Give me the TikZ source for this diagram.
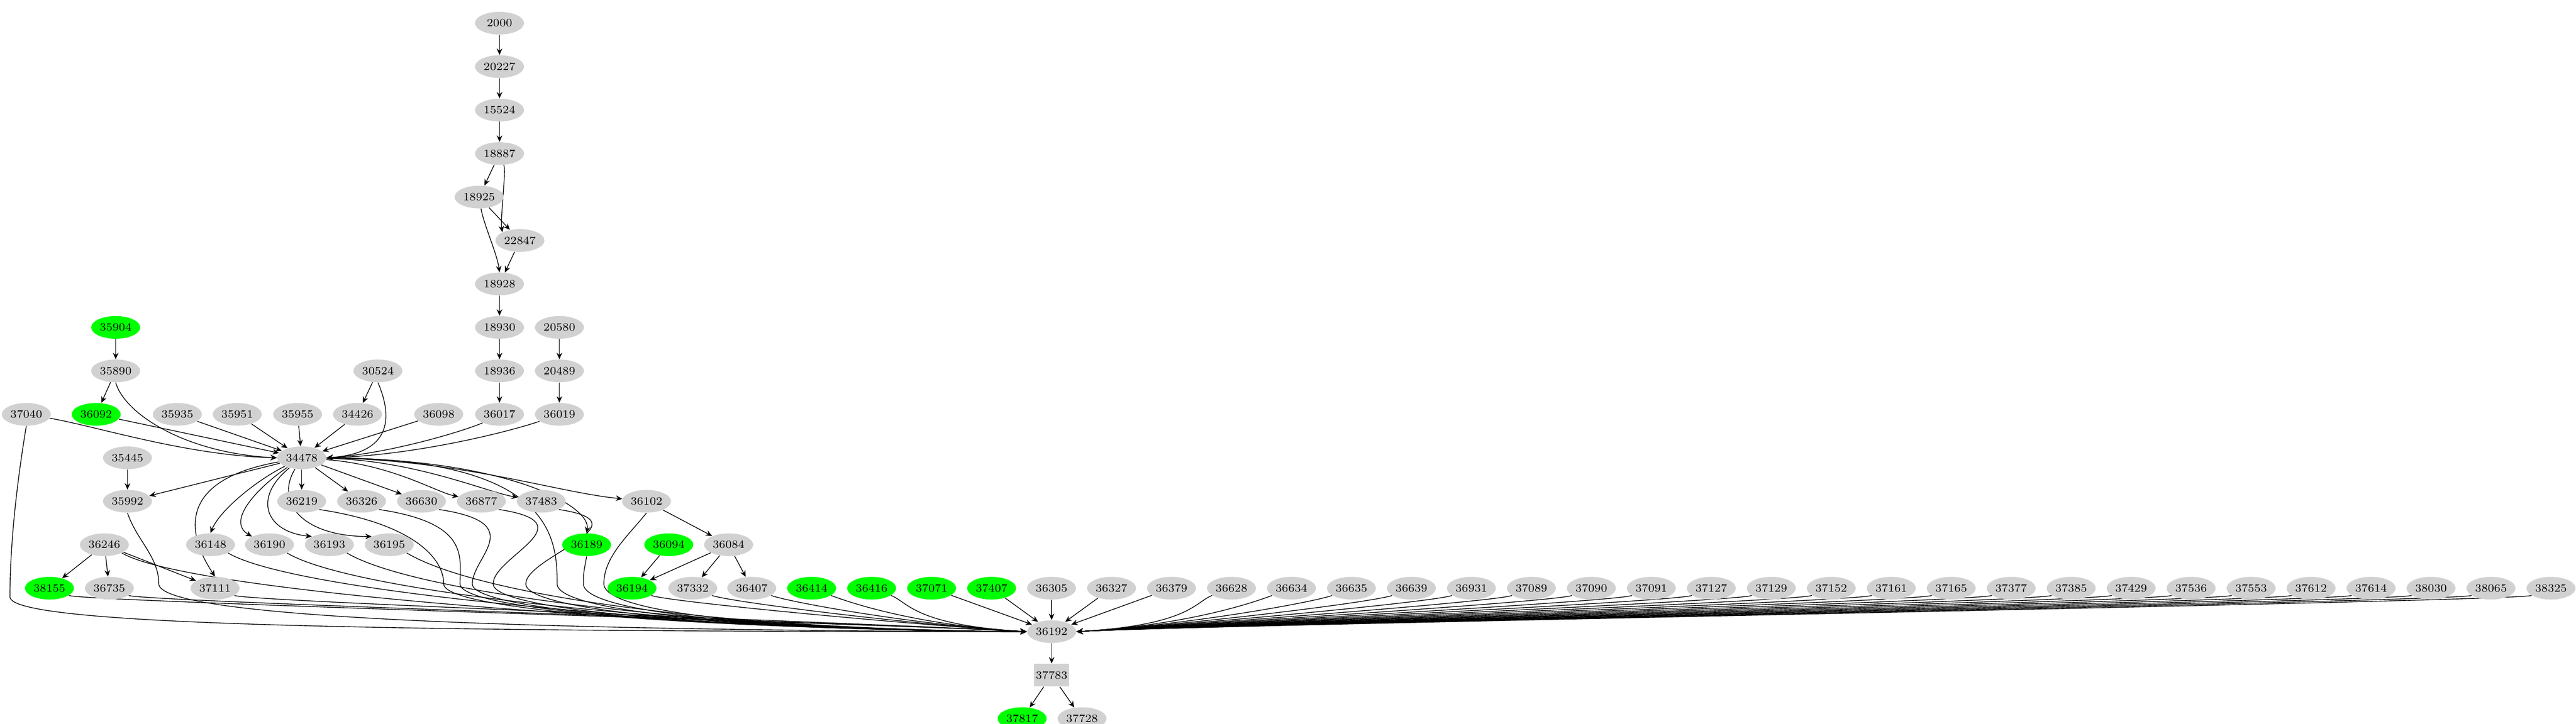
\documentclass[tikz,border=0pt]{standalone}
\usetikzlibrary{arrows.meta,shapes.geometric}
\pgfdeclarelayer{bg}
\pgfsetlayers{bg,main}
\begin{document}
\begin{tikzpicture}[x=0.01cm,y=-1cm,
  nd/.style={ellipse,fill=black!18,minimum width=1.08cm,minimum height=0.5cm,inner sep=0pt,font=\fontsize{7}{8}\selectfont},
  gn/.style={nd,fill=green},
  bx/.style={rectangle,fill=black!18,minimum width=0.5cm,minimum height=0.5cm,inner sep=1pt,font=\fontsize{7}{8}\selectfont},
  e/.style={-{Stealth[length=4pt,width=3.5pt]},line width=0.45pt}]
\useasboundingbox (0,0) rectangle (5678,15.95);
\newcommand{\R}[1]{0.51+0.958*#1}
\node[nd] (n2000) at (1101,{\R{0}}) {2000};
\node[nd] (n20227) at (1101,{\R{1}}) {20227};
\node[nd] (n15524) at (1101,{\R{2}}) {15524};
\node[nd] (n18887) at (1101,{\R{3}}) {18887};
\node[nd] (n18925) at (1056,{\R{4}}) {18925};
\node[nd] (n22847) at (1146,{\R{5}}) {22847};
\node[nd] (n18928) at (1101,{\R{6}}) {18928};
\node[gn] (n35904) at (255,{\R{7}}) {35904};
\node[nd] (n18930) at (1101,{\R{7}}) {18930};
\node[nd] (n20580) at (1233,{\R{7}}) {20580};
\node[nd] (n35890) at (255,{\R{8}}) {35890};
\node[nd] (n30524) at (833,{\R{8}}) {30524};
\node[nd] (n18936) at (1101,{\R{8}}) {18936};
\node[nd] (n20489) at (1233,{\R{8}}) {20489};
\node[nd] (n37040) at (58,{\R{9}}) {37040};
\node[gn] (n36092) at (212,{\R{9}}) {36092};
\node[nd] (n35935) at (391,{\R{9}}) {35935};
\node[nd] (n35951) at (523,{\R{9}}) {35951};
\node[nd] (n35955) at (656,{\R{9}}) {35955};
\node[nd] (n34426) at (788,{\R{9}}) {34426};
\node[nd] (n36098) at (967,{\R{9}}) {36098};
\node[nd] (n36017) at (1101,{\R{9}}) {36017};
\node[nd] (n36019) at (1233,{\R{9}}) {36019};
\node[nd] (n35445) at (281,{\R{10}}) {35445};
\node[nd] (n34478) at (665,{\R{10}}) {34478};
\node[nd] (n35992) at (281,{\R{11}}) {35992};
\node[nd] (n36219) at (665,{\R{11}}) {36219};
\node[nd] (n36326) at (797,{\R{11}}) {36326};
\node[nd] (n36630) at (929,{\R{11}}) {36630};
\node[nd] (n36877) at (1061,{\R{11}}) {36877};
\node[nd] (n37483) at (1193,{\R{11}}) {37483};
\node[nd] (n36102) at (1425,{\R{11}}) {36102};
\node[nd] (n36246) at (230,{\R{12}}) {36246};
\node[nd] (n36148) at (464,{\R{12}}) {36148};
\node[nd] (n36190) at (594,{\R{12}}) {36190};
\node[nd] (n36193) at (726,{\R{12}}) {36193};
\node[nd] (n36195) at (858,{\R{12}}) {36195};
\node[gn] (n36189) at (1293,{\R{12}}) {36189};
\node[gn] (n36094) at (1474,{\R{12}}) {36094};
\node[nd] (n36084) at (1606,{\R{12}}) {36084};
\node[gn] (n38155) at (109,{\R{13}}) {38155};
\node[nd] (n36735) at (241,{\R{13}}) {36735};
\node[nd] (n37111) at (474,{\R{13}}) {37111};
\node[gn] (n36194) at (1393,{\R{13}}) {36194};
\node[nd] (n37332) at (1527,{\R{13}}) {37332};
\node[nd] (n36407) at (1657,{\R{13}}) {36407};
\node[nd] (n36192) at (2318,{\R{14}}) {36192};
\node[bx] (n37783) at (2318,{\R{15}}) {37783};
\node[gn] (n37817) at (2253,{\R{16}}) {37817};
\node[nd] (n37728) at (2385,{\R{16}}) {37728};
\foreach \lab [count=\i from 0] in {36414,36416,37071,37407} {
  \node[gn] (n\lab) at ({1789+132.2*\i},{\R{13}}) {\lab};}
\foreach \lab [count=\i from 4] in {36305,36327,36379,36628,36634,36635,36639,36931,37089,37090,37091,37127,37129,37152,37161,37165,37377,37385,37429,37536,37553,37612,37614,38030,38065,38325} {
  \node[nd] (n\lab) at ({1789+132.2*\i},{\R{13}}) {\lab};}
\foreach \s/\v in {36219/978,36326/1014,36630/1041,36877/1087,37483/1159,34478/1228,36189/1286,36102/1331,35992/350}
  \coordinate (v\s) at (\v,{\R{12.9}});
\coordinate (v37040) at (22,{\R{13.2}});
\begin{pgfonlayer}{bg}
\draw[e] (n2000)--(n20227); \draw[e] (n20227)--(n15524); \draw[e] (n15524)--(n18887);
\draw[e] (n18887)--(n18925); \draw[e] (n18887) .. controls +(15,0.4) and +(-5,-0.3) .. (n22847.north west);
\draw[e] (n18925)--(n22847); \draw[e] (n18925) .. controls +(10,0.6) and +(-5,-0.4) .. (n18928.north);
\draw[e] (n22847)--(n18928); \draw[e] (n18928)--(n18930); \draw[e] (n18930)--(n18936);
\draw[e] (n18936)--(n36017); \draw[e] (n20580)--(n20489); \draw[e] (n20489)--(n36019);
\draw[e] (n35904)--(n35890); \draw[e] (n35890)--(n36092);
\draw[e] (n35890.south) .. controls +(20,0.7) and +(-200,-0.1) .. (n34478.west);
\draw[e] (n30524)--(n34426);
\draw[e] (n30524.south) .. controls +(30,0.7) and +(150,-0.1) .. (n34478.east);
\foreach \s in {36092,35935,35951,35955,34426,36098} \draw[e] (n\s)--(n34478);
\draw[e] (n37040) .. controls +(150,0.25) and +(-200,-0.05) .. (n34478.west);
\draw[e] (n36017) .. controls +(-60,0.3) and +(150,-0.1) .. (n34478.east);
\draw[e] (n36019) .. controls +(-100,0.35) and +(200,-0.05) .. (n34478.east);
\draw[e] (n35445)--(n35992);
\draw[e] (n34478)--(n35992); \draw[e] (n34478)--(n36219); \draw[e] (n34478)--(n36326);
\draw[e] (n34478)--(n36630);
\draw[e] (n34478) .. controls +(200,0.15) and +(-100,-0.2) .. (n36877);
\draw[e] (n34478) .. controls +(250,0.05) and +(-120,-0.2) .. (n37483);
\draw[e] (n34478.east) .. controls +(300,0.05) and +(-200,-0.2) .. (n36102);
\draw[e] (n34478.east) .. controls +(400,0.02) and +(10,-0.6) .. (n36189.north);
\draw[e] (n34478) .. controls +(-100,0.5) and +(20,-0.5) .. (n36148.north);
\draw[e] (n34478) .. controls +(-280,0.5) and +(-60,-0.9) .. (n37111.north);
\draw[e] (n34478) .. controls +(-90,0.6) and +(-60,-0.35) .. (n36190.north west);
\draw[e] (n34478) .. controls +(-110,0.9) and +(-100,-0.1) .. (n36193.north west);
\draw[e] (n34478) .. controls +(-60,1.0) and +(-150,0) .. (n36195.north west);
\draw[e] (n34478.east) .. controls +(500,0) and +(0,-1.0) .. (v34478) .. controls +(0,0.7) and +(-500,-0.03) .. (n36192.west);
\draw[e] (n36102)--(n36084); \draw[e] (n36094)--(n36194); \draw[e] (n36084)--(n36194);
\draw[e] (n36084)--(n37332); \draw[e] (n36084)--(n36407);
\draw[e] (n36246)--(n38155); \draw[e] (n36246)--(n36735); \draw[e] (n36246)--(n37111);
\foreach \s in {36219,36326,36630,36877,37483}
  \draw[e] (n\s.south east) .. controls +(200,0.3) and +(0,-0.6) .. (v\s) .. controls +(0,0.7) and +(-500,-0.03) .. (n36192.west);
\draw[e] (n36189.south) .. controls +(-5,0.3) and +(0,-0.3) .. (v36189) .. controls +(0,0.7) and +(-500,-0.03) .. (n36192.west);
\draw[e] (n36102.south) .. controls +(-40,0.5) and +(0,-0.6) .. (v36102) .. controls +(0,0.7) and +(-500,-0.03) .. (n36192.west);
\draw[e] (n35992.south) .. controls +(20,0.6) and +(0,-0.6) .. (v35992) .. controls +(0,0.7) and +(-1200,-0.03) .. (n36192.west);
\foreach \s in {36246,36148,36190,36193,36195}
  \draw[e] (n\s.south east) .. controls +(150,0.9) and +(-700,-0.05) .. (n36192.west);
\draw[e] (n37040.south) .. controls +(-20,1.2) and +(0,-1.2) .. (v37040) .. controls +(0,0.6) and +(-1500,0) .. (n36192.west);
\foreach \s in {38155,36735,37111,36194,37332,36407,36414,36416}
  \draw[e] (n\s) .. controls +(80,0.3) and +(-250,-0.15) .. (n36192.west);
\draw[e] (n37071)--(n36192); \draw[e] (n37407)--(n36192); \draw[e] (n36305)--(n36192);
\draw[e] (n36327)--(n36192); \draw[e] (n36379)--(n36192);
\foreach \s in {36628,36634,36635,36639,36931,37089,37090,37091,37127,37129,37152,37161,37165,37377,37385,37429,37536,37553,37612,37614,38030,38065,38325}
  \draw[e] (n\s) .. controls +(-80,0.3) and +(250,-0.15) .. (n36192.east);
\draw[e] (n36192)--(n37783); \draw[e] (n37783)--(n37817); \draw[e] (n37783)--(n37728);
\end{pgfonlayer}
\end{tikzpicture}
\end{document}
